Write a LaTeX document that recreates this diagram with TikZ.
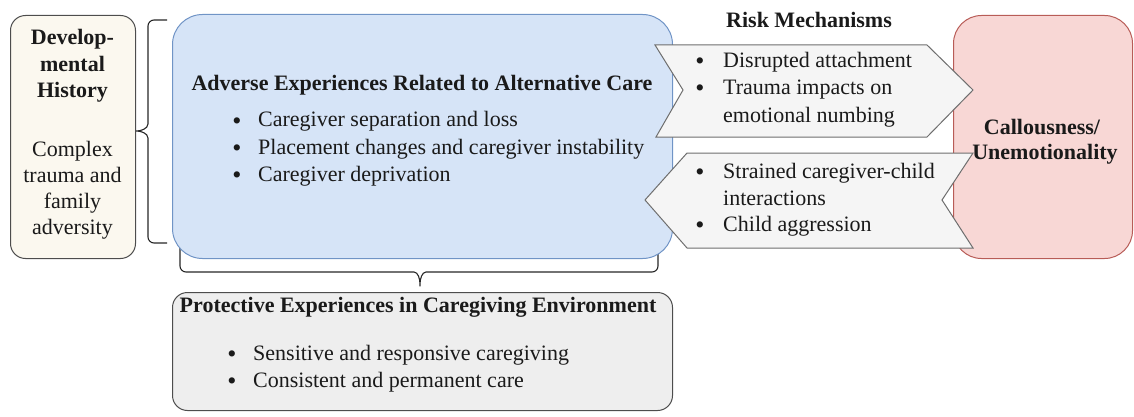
\documentclass[tikz,border=0pt]{standalone}
\usepackage{fontspec}
\setmainfont{Liberation Serif}
\definecolor{devfill}{HTML}{FBF8EF}
\definecolor{devline}{HTML}{4D4D4D}
\definecolor{bluefill}{HTML}{D6E4F7}
\definecolor{blueline}{HTML}{7094C6}
\definecolor{redfill}{HTML}{F8D7D5}
\definecolor{redline}{HTML}{B85C57}
\definecolor{protfill}{HTML}{EEEEEE}
\definecolor{protline}{HTML}{4D4D4D}
\definecolor{arrfill}{HTML}{F5F5F5}
\definecolor{arrline}{HTML}{6E6E6E}
\definecolor{txt}{HTML}{1A1A1A}
\begin{document}
\begin{tikzpicture}[x=1pt,y=-1pt,
  every node/.style={inner sep=0pt, text=txt, font=\fontsize{22}{27}\selectfont},
  box/.style={draw, line width=1pt, rounded corners=#1, anchor=north west},
  ttl/.style={anchor=base, font=\fontsize{22}{27}\selectfont\bfseries},
  ln/.style={anchor=base west},
  bul/.style={anchor=base, font=\fontsize{26}{27}\selectfont},
  ctr/.style={anchor=base},
  arrowshape/.style={draw=arrline, fill=arrfill, line width=1pt, line join=miter},
  bracestyle/.style={draw=black!85, line width=1.1pt, rounded corners=6pt}]
\useasboundingbox (0,0) rectangle (1134,417);

% braces
\coordinate (lbT) at (167,20);
\coordinate (lbB) at (167,243);
\coordinate (lbTip) at (131,131);
\draw[bracestyle] (lbT) -- (148,20) -- (148,118)
  .. controls (148,129) and (140,131) .. (lbTip)
  .. controls (140,131) and (148,133) .. (148,144) -- (148,243) -- (lbB);
\coordinate (bbL) at (180,248);
\coordinate (bbR) at (658,248);
\coordinate (bbTip) at (420,290);
\draw[bracestyle] (bbL) -- (180,272) -- (408,272)
  .. controls (418,272) and (420,279) .. (bbTip)
  .. controls (420,279) and (422,272) .. (432,272) -- (658,272) -- (bbR);

% boxes
\node[box=15pt, fill=devfill, draw=devline, minimum width=125pt, minimum height=243pt] (dev) at (10,15) {};
\node[box=30pt, fill=bluefill, draw=blueline, minimum width=500pt, minimum height=244pt] (adv) at (172,14) {};
\node[box=28pt, fill=redfill, draw=redline, minimum width=179pt, minimum height=243pt] (cu) at (953,15) {};
\node[box=15pt, fill=protfill, draw=protline, minimum width=500pt, minimum height=118pt] (prot) at (172,292) {};

% developmental history text
\node[ttl] (d1) at (72.5,45) {Develop-};
\node[ttl] (d2) at (72.5,72) {mental};
\node[ttl] (d3) at (72.5,98) {History};
\node[ctr] (d4) at (72.5,156) {Complex};
\node[ctr] (d5) at (72.5,182) {trauma and};
\node[ctr] (d6) at (72.5,208) {family};
\node[ctr] (d7) at (72.5,234) {adversity};

% adverse experiences text
\node[ttl] (at) at (422,91) {Adverse Experiences Related to Alternative Care};
\node[bul] (ab1) at (237,129) {•};
\node[ln] (a1) at (258,127) {Caregiver separation and loss};
\node[bul] (ab2) at (237,156) {•};
\node[ln] (a2) at (258,154) {Placement changes and caregiver instability};
\node[bul] (ab3) at (237,183) {•};
\node[ln] (a3) at (258,181) {Caregiver deprivation};

% risk mechanisms
\node[ttl] (rt) at (809,28) {Risk Mechanisms};
\coordinate (u1) at (655,45);
\coordinate (u2) at (927,45);
\coordinate (u3) at (973,90);
\coordinate (u4) at (927,137);
\coordinate (u5) at (656,137);
\coordinate (u6) at (683,90);
\draw[arrowshape] (u1) -- (u2) -- (u3) -- (u4) -- (u5) -- (u6) -- cycle;
\coordinate (l1) at (687,153);
\coordinate (l2) at (973,153);
\coordinate (l3) at (942,200);
\coordinate (l4) at (973,248);
\coordinate (l5) at (687,248);
\coordinate (l6) at (645,200);
\draw[arrowshape] (l1) -- (l2) -- (l3) -- (l4) -- (l5) -- (l6) -- cycle;

\node[bul] (rb1) at (700,70) {•};
\node[ln] (r1) at (723,68) {Disrupted attachment};
\node[bul] (rb2) at (700,97) {•};
\node[ln] (r2) at (723,95) {Trauma impacts on};
\node[ln] (r3) at (723,122) {emotional numbing};

\node[bul] (sb1) at (700,180) {•};
\node[ln] (s1) at (723,178) {Strained caregiver-child};
\node[ln] (s2) at (723,205) {interactions};
\node[bul] (sb2) at (700,233) {•};
\node[ln] (s3) at (723,231) {Child aggression};

% callousness text
\node[ttl] (c1) at (1042,134) {Callousness/};
\node[ttl] (c2) at (1045,159) {Unemotionality};

% protective text
\node[ttl] (pt) at (418,312) {Protective Experiences in Caregiving Environment};
\node[bul] (pb1) at (232,362) {•};
\node[ln] (p1) at (253,360) {Sensitive and responsive caregiving};
\node[bul] (pb2) at (232,389) {•};
\node[ln] (p2) at (253,387) {Consistent and permanent care};
\end{tikzpicture}
\end{document}
